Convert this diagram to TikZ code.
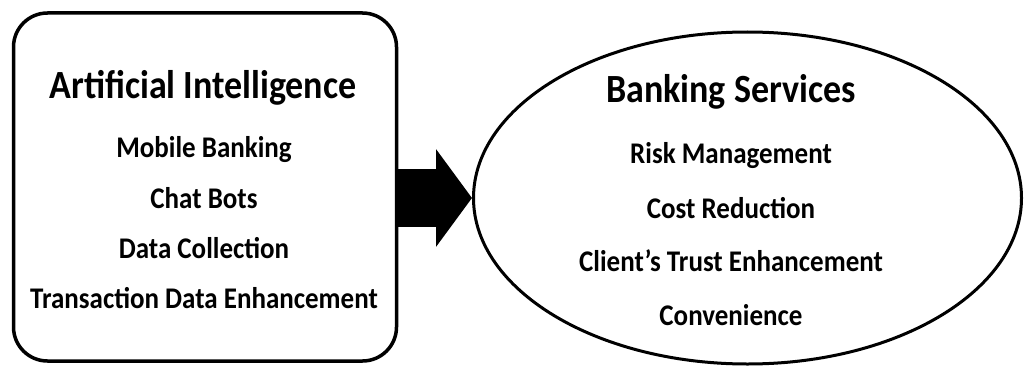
\documentclass[tikz,border=0pt]{standalone}
\usepackage{fontspec}
\setmainfont{Carlito}[FakeStretch=0.9]
\usetikzlibrary{shapes.geometric,arrows.meta}

\tikzset{
  headtext/.style={font=\bfseries\fontsize{40}{44}\selectfont, anchor=base, inner sep=0pt},
  itemtext/.style={font=\bfseries\fontsize{30}{33}\selectfont, anchor=base, inner sep=0pt},
  bigarrow/.style={line width=58pt, -{Triangle[length=36pt,width=96pt]}}
}

\begin{document}
\begin{tikzpicture}[x=1pt, y=-1pt]
        \useasboundingbox (0,0) rectangle (1025,369);

        % Artificial Intelligence box
        \node[draw, line width=3.5pt, rounded corners=34pt, minimum width=383pt, minimum height=348pt] (ai) at (205,187) {};
        \node[headtext] (aititle) at (203,98) {Artificial Intelligence};
        \node[itemtext] (mobile) at (204,157) {Mobile Banking};
        \node[itemtext] (chat) at (204,208) {Chat Bots};
        \node[itemtext] (datacoll) at (204,258) {Data Collection};
        \node[itemtext] (transact) at (204,308) {Transaction Data Enhancement};

        % Banking Services ellipse
        \node[draw, ellipse, line width=3pt, inner sep=0pt, minimum width=548pt, minimum height=332pt] (bank) at (747.5,198) {};
        \node[headtext] (banktitle) at (731,102) {Banking Services};
        \node[itemtext] (risk) at (731,163) {Risk Management};
        \node[itemtext] (cost) at (731,218) {Cost Reduction};
        \node[itemtext] (trust) at (731,271) {Client’s Trust Enhancement};
        \node[itemtext] (conv) at (731,325) {Convenience};

        % Connection
        \draw[bigarrow] (ai.east |- bank.west) -- (bank.west);
    \end{tikzpicture}
\end{document}
